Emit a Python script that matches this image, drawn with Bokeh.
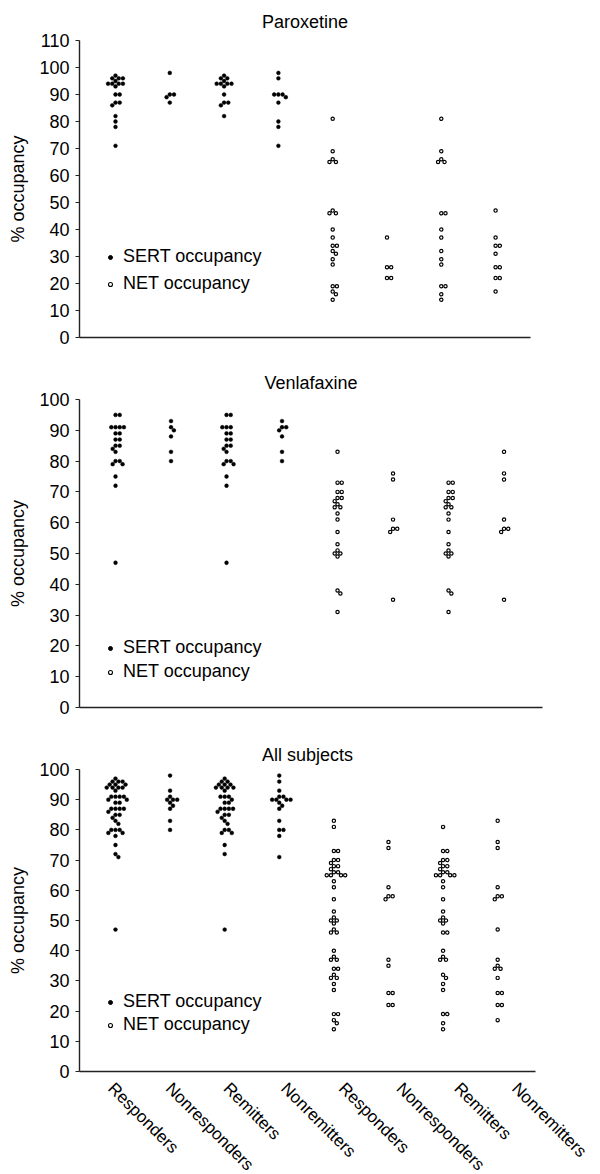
import math
from bokeh.plotting import figure
from bokeh.models import (Range1d, FixedTicker, LinearAxis, Legend, LegendItem, Title)
from bokeh.layouts import column
from bokeh.embed import file_html
from bokeh.resources import INLINE

FONT = "Liberation Sans"

categories = ["Responders", "Nonresponders", "Remitters", "Nonremitters",
              "Responders", "Nonresponders", "Remitters", "Nonremitters"]
panel_titles = ["Paroxetine", "Venlafaxine", "All subjects"]
y_ticks_parox = [0, 10, 20, 30, 40, 50, 60, 70, 80, 90, 100, 110]
y_ticks_other = [0, 10, 20, 30, 40, 50, 60, 70, 80, 90, 100]

# Paroxetine - SERT occupancy (%)
parox_sert_responders = [97, 96, 96, 96, 95, 94, 94, 94, 94, 93, 90, 90, 87, 87, 86, 82, 80, 78, 71]
parox_sert_nonresponders = [98, 90, 90, 89, 87]
parox_sert_remitters = [97, 96, 96, 95, 94, 94, 94, 94, 93, 90, 87, 87, 86, 82]
parox_sert_nonremitters = [98, 96, 90, 90, 90, 89, 87, 80, 78, 71]
# Paroxetine - NET occupancy (%)
parox_net_responders = [81, 69, 66, 65, 65, 47, 46, 46, 40, 37, 34, 34, 32, 31, 29, 27, 19, 19, 17, 16, 14]
parox_net_nonresponders = [37, 26, 26, 22, 22]
parox_net_remitters = [81, 69, 66, 65, 65, 46, 46, 40, 37, 32, 29, 27, 19, 19, 16, 14]
parox_net_nonremitters = [47, 37, 34, 34, 31, 26, 26, 22, 22, 17]

# Venlafaxine - SERT occupancy (%)
venla_sert_responders = [95, 95, 91, 91, 91, 91, 89, 89, 87, 87, 85, 85, 84, 83, 80, 80, 79, 79, 75, 72, 47]
venla_sert_nonresponders = [93, 91, 90, 88, 83, 80]
venla_sert_remitters = [95, 95, 91, 91, 91, 89, 89, 87, 87, 85, 85, 84, 83, 80, 80, 79, 79, 75, 72, 47]
venla_sert_nonremitters = [93, 91, 91, 90, 88, 83, 80]
# Venlafaxine - NET occupancy (%)
venla_net_responders = [83, 73, 73, 70, 70, 68, 68, 67, 66, 65, 65, 63, 61, 57, 53, 51, 50, 50, 49, 38, 37, 31]
venla_net_nonresponders = [76, 74, 61, 58, 58, 57, 35]
venla_net_remitters = [73, 73, 70, 70, 68, 68, 67, 66, 65, 65, 63, 61, 57, 53, 51, 50, 50, 49, 38, 37, 31]
venla_net_nonremitters = [83, 76, 74, 61, 58, 58, 57, 35]

parox_groups = [parox_sert_responders, parox_sert_nonresponders, parox_sert_remitters, parox_sert_nonremitters,
                parox_net_responders, parox_net_nonresponders, parox_net_remitters, parox_net_nonremitters]
venla_groups = [venla_sert_responders, venla_sert_nonresponders, venla_sert_remitters, venla_sert_nonremitters,
                venla_net_responders, venla_net_nonresponders, venla_net_remitters, venla_net_nonremitters]
# All subjects = pooled groups of both drugs
all_groups = [a + b for a, b in zip(parox_groups, venla_groups)]


def swarm(values, xc, sx, sy, d=4.2):
    """beeswarm offsets computed in pixel space, returned in data units"""
    placed = []
    xs, ys = [], []
    for v in sorted(values, reverse=True):
        y = v * sy
        forb = []
        for (px, py) in placed:
            dy = abs(py - y)
            if dy < d:
                w = math.sqrt(d * d - dy * dy)
                forb.append((px - w, px + w))
        cands = [0.0] + [a for a, b in forb] + [b for a, b in forb]
        cands.sort(key=lambda c: (round(abs(c), 6), -c))
        chosen = 0.0
        for c in cands:
            if all(not (a + 1e-6 < c < b - 1e-6) for a, b in forb):
                chosen = c
                break
        placed.append((chosen, y))
        xs.append(xc + chosen / sx)
        ys.append(v)
    return xs, ys


LEFT = 79
panels = [
    dict(groups=parox_groups, yend=110, ticks=y_ticks_parox, fw=451, fh=297, x0=0.337, x1=8.643,
         bt=40, bb=18, ts=18, ly=43, lsp=6),
    dict(groups=venla_groups, yend=100, ticks=y_ticks_other, fw=463, fh=308, x0=0.351, x1=8.693,
         bt=44, bb=22, ts=13, ly=25, lsp=3),
    dict(groups=all_groups, yend=100, ticks=y_ticks_other, fw=456, fh=302, x0=0.341, x1=8.693,
         bt=40, bb=100, ts=10, ly=36, lsp=2),
]

figs = []
for k, spec in enumerate(panels):
    p = figure(frame_width=spec["fw"], frame_height=spec["fh"],
               x_range=Range1d(spec["x0"], spec["x1"]), y_range=Range1d(0, spec["yend"]),
               output_backend="svg", toolbar_location=None,
               min_border_left=LEFT, min_border_right=600 - LEFT - spec["fw"],
               min_border_top=spec["bt"], min_border_bottom=spec["bb"])
    p.title = Title(text=panel_titles[k], align="center", text_font=FONT, text_font_size="18px",
                    text_font_style="normal", text_color="black", standoff=spec["ts"])
    p.outline_line_color = None
    p.xgrid.visible = False
    p.ygrid.visible = False
    p.background_fill_color = "white"
    p.border_fill_color = "white"

    sx = spec["fw"] / (spec["x1"] - spec["x0"])
    sy = spec["fh"] / spec["yend"]
    sert_x, sert_y, net_x, net_y = [], [], [], []
    for i, vals in enumerate(spec["groups"]):
        xs, ys = swarm(vals, i + 1, sx, sy)
        if i < 4:
            sert_x += xs
            sert_y += ys
        else:
            net_x += xs
            net_y += ys
    p.scatter(x=sert_x, y=sert_y, marker="circle", size=3.8, fill_color="black", line_color="black",
              line_width=0.5)
    p.scatter(x=net_x, y=net_y, marker="circle", size=3.3, fill_color="white", line_color="black",
              line_width=1.2)

    # legend-only renderers (not drawn in the frame)
    leg_sert = p.scatter(x=[float("nan")], y=[float("nan")], marker="circle", size=6.5,
                         fill_color="black", line_color="black")
    leg_net = p.scatter(x=[float("nan")], y=[float("nan")], marker="circle", size=5.0,
                        fill_color="white", line_color="black", line_width=1.1)
    legend = Legend(items=[LegendItem(label="SERT occupancy", renderers=[leg_sert]),
                           LegendItem(label="NET occupancy", renderers=[leg_net])],
                    location=(26, spec["ly"]), padding=0, margin=0, spacing=spec["lsp"],
                    glyph_width=10, glyph_height=20, label_height=20, label_standoff=8,
                    label_text_font=FONT, label_text_font_size="18px", label_text_color="black",
                    border_line_color=None, background_fill_alpha=0)
    p.add_layout(legend)

    # y axis
    ya = p.yaxis[0]
    ya.ticker = FixedTicker(ticks=spec["ticks"])
    ya.axis_label = "% occupancy"
    ya.axis_label_text_font = FONT
    ya.axis_label_text_font_size = "18px"
    ya.axis_label_text_font_style = "normal"
    ya.axis_label_text_color = "black"
    ya.axis_label_standoff = 8
    ya.major_label_text_font = FONT
    ya.major_label_text_font_size = "18px"
    ya.major_label_text_color = "black"
    ya.major_tick_out = 4
    ya.major_tick_in = 0
    ya.major_label_standoff = 6
    ya.minor_tick_line_color = None
    ya.axis_line_width = 1.4
    ya.axis_line_color = "#222222"
    ya.major_tick_line_color = "#222222"

    # x axis: line only
    xa = p.xaxis[0]
    xa.ticker = FixedTicker(ticks=[])
    xa.major_tick_line_color = None
    xa.minor_tick_line_color = None
    xa.axis_line_width = 1.4
    xa.axis_line_color = "#222222"

    if k == 2:
        p.extra_x_ranges = {"lab": Range1d(0.456, 8.359)}
        lab = LinearAxis(x_range_name="lab", ticker=FixedTicker(ticks=[1, 2, 3, 4, 5, 6, 7, 8]),
                         major_label_overrides={i + 1: c for i, c in enumerate(categories)},
                         major_label_orientation=-math.pi / 4,
                         axis_line_color=None, major_tick_line_color=None, minor_tick_line_color=None,
                         major_label_standoff=8, major_label_text_font=FONT,
                         major_label_text_font_size="17px", major_label_text_color="black")
        p.add_layout(lab, "below")
    figs.append(p)

layout = column(*figs, spacing=0)
open("out.html", "w").write(file_html(layout, INLINE))
